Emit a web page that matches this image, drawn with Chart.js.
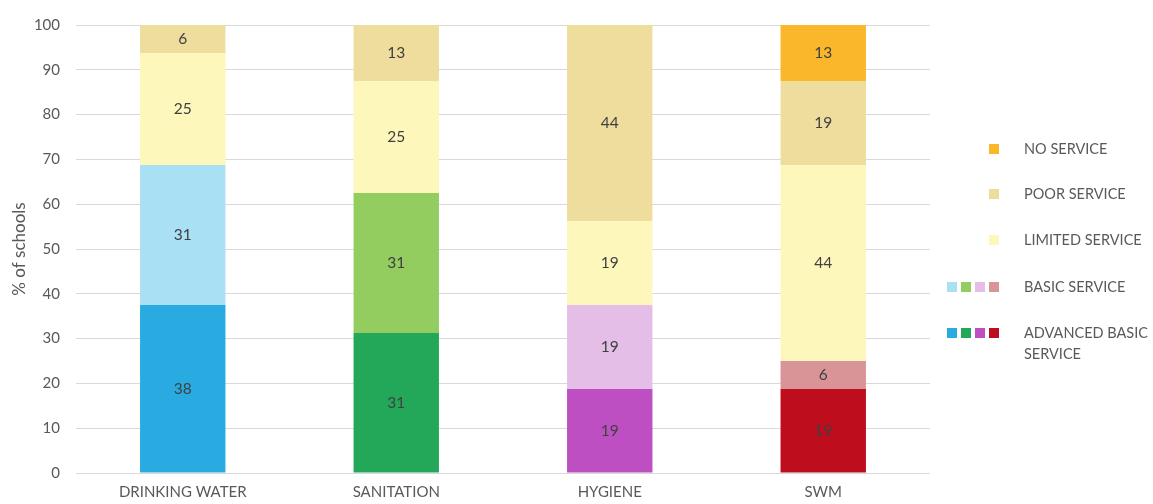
<!DOCTYPE html>
<html>
<head>
<meta charset="utf-8">
<script src="https://cdn.jsdelivr.net/npm/chart.js@4.4.1/dist/chart.umd.min.js"></script>
<style>
  html, body { margin: 0; padding: 0; background: #fff; }
  #wrap { position: relative; width: 1153px; height: 504px; }
  #c { position: absolute; left: 0; top: 0; }
  .lg { position: absolute; font-family: Lato, "Open Sans", sans-serif; font-size: 14.5px; color: #595959; line-height: 21px; }
  .sw { position: absolute; width: 10px; height: 10px; }
</style>
</head>
<body>
<div id="wrap">
  <canvas id="c" width="1153" height="504"></canvas>
</div>
<script>
const categories = ['DRINKING WATER', 'SANITATION', 'HYGIENE', 'SWM'];
const advancedBasic = [37.5, 31.25, 18.75, 18.75];
const basicService = [31.25, 31.25, 18.75, 6.25];
const limitedService = [25, 25, 18.75, 43.75];
const poorService = [6.25, 12.5, 43.75, 18.75];
const noService = [0, 0, 0, 12.5];
const yTicks = [0, 10, 20, 30, 40, 50, 60, 70, 80, 90, 100];
const legendNames = ['NO SERVICE', 'POOR SERVICE', 'LIMITED SERVICE', 'BASIC SERVICE', 'ADVANCED BASIC SERVICE'];

const advColors = ['#29ABE2', '#23A85A', '#BE4FC3', '#BE0E1E'];
const basicColors = ['#A9E0F4', '#93CD5F', '#E5BEE8', '#D99498'];
const limitedColor = '#FDF7BC';
const poorColor = '#EEDD9C';
const noColor = '#FBB72B';
const FONT = 'Lato, "Open Sans", sans-serif';

const labelPlugin = {
  id: 'barLabels',
  afterDatasetsDraw(chart) {
    const ctx = chart.ctx;
    ctx.save();
    ctx.font = '15.5px ' + FONT;
    ctx.fillStyle = '#404040';
    ctx.textAlign = 'center';
    ctx.textBaseline = 'middle';
    chart.data.datasets.forEach((ds, i) => {
      const meta = chart.getDatasetMeta(i);
      meta.data.forEach((bar, j) => {
        const v = ds.data[j];
        if (!v) return;
        const p = bar.getProps(['x', 'y', 'base'], true);
        ctx.fillText(String(Math.round(v)), p.x, (p.y + p.base) / 2);
      });
    });
    ctx.restore();
  }
};

const ds = (label, data, color) => ({
  label, data, backgroundColor: color, borderWidth: 0,
  categoryPercentage: 1.0, barPercentage: 0.4
});

new Chart(document.getElementById('c'), {
  type: 'bar',
  data: {
    labels: categories,
    datasets: [
      ds(legendNames[4], advancedBasic, advColors),
      ds(legendNames[3], basicService, basicColors),
      ds(legendNames[2], limitedService, limitedColor),
      ds(legendNames[1], poorService, poorColor),
      ds(legendNames[0], noService, noColor)
    ]
  },
  options: {
    responsive: false,
    animation: false,
    layout: { padding: { top: 16, right: 223, bottom: 0, left: 0 } },
    plugins: { legend: { display: false }, tooltip: { enabled: false } },
    scales: {
      x: {
        stacked: true,
        grid: { display: false, drawTicks: false },
        border: { display: false },
        ticks: { color: '#595959', font: { family: FONT, size: 15 }, padding: 10, maxRotation: 0 },
        afterFit(s) { s.height = 31; }
      },
      y: {
        stacked: true,
        min: 0, max: 100,
        afterBuildTicks(s) { s.ticks = yTicks.map(v => ({ value: v })); },
        grid: { color: '#d9d9d9', lineWidth: 1, drawTicks: false },
        border: { display: false },
        ticks: { color: '#595959', font: { family: FONT, size: 15 }, padding: 16 },
        title: { display: true, text: '% of schools', color: '#595959', font: { family: FONT, size: 17 }, padding: { top: 9, bottom: 0 } },
        afterFit(s) { s.width = 76; }
      }
    }
  },
  plugins: [labelPlugin]
});

// Custom legend (HTML, real text)
const wrap = document.getElementById('wrap');
const legendRows = [
  { name: legendNames[0], colors: [noColor], y: 149 },
  { name: legendNames[1], colors: [poorColor], y: 194 },
  { name: legendNames[2], colors: [limitedColor], y: 240 },
  { name: legendNames[3], colors: basicColors, y: 287 },
  { name: legendNames[4], colors: advColors, y: 333 }
];
legendRows.forEach(r => {
  const n = r.colors.length;
  r.colors.forEach((c, k) => {
    const sw = document.createElement('div');
    sw.className = 'sw';
    sw.style.background = c;
    sw.style.left = (989 - (n - 1 - k) * 14) + 'px';
    sw.style.top = (r.y - 5) + 'px';
    wrap.appendChild(sw);
  });
  const t = document.createElement('div');
  t.className = 'lg';
  t.style.left = '1024px';
  t.style.top = (r.y - 11) + 'px';
  t.style.width = '128px';
  t.textContent = r.name;
  wrap.appendChild(t);
});
</script>
</body>
</html>
